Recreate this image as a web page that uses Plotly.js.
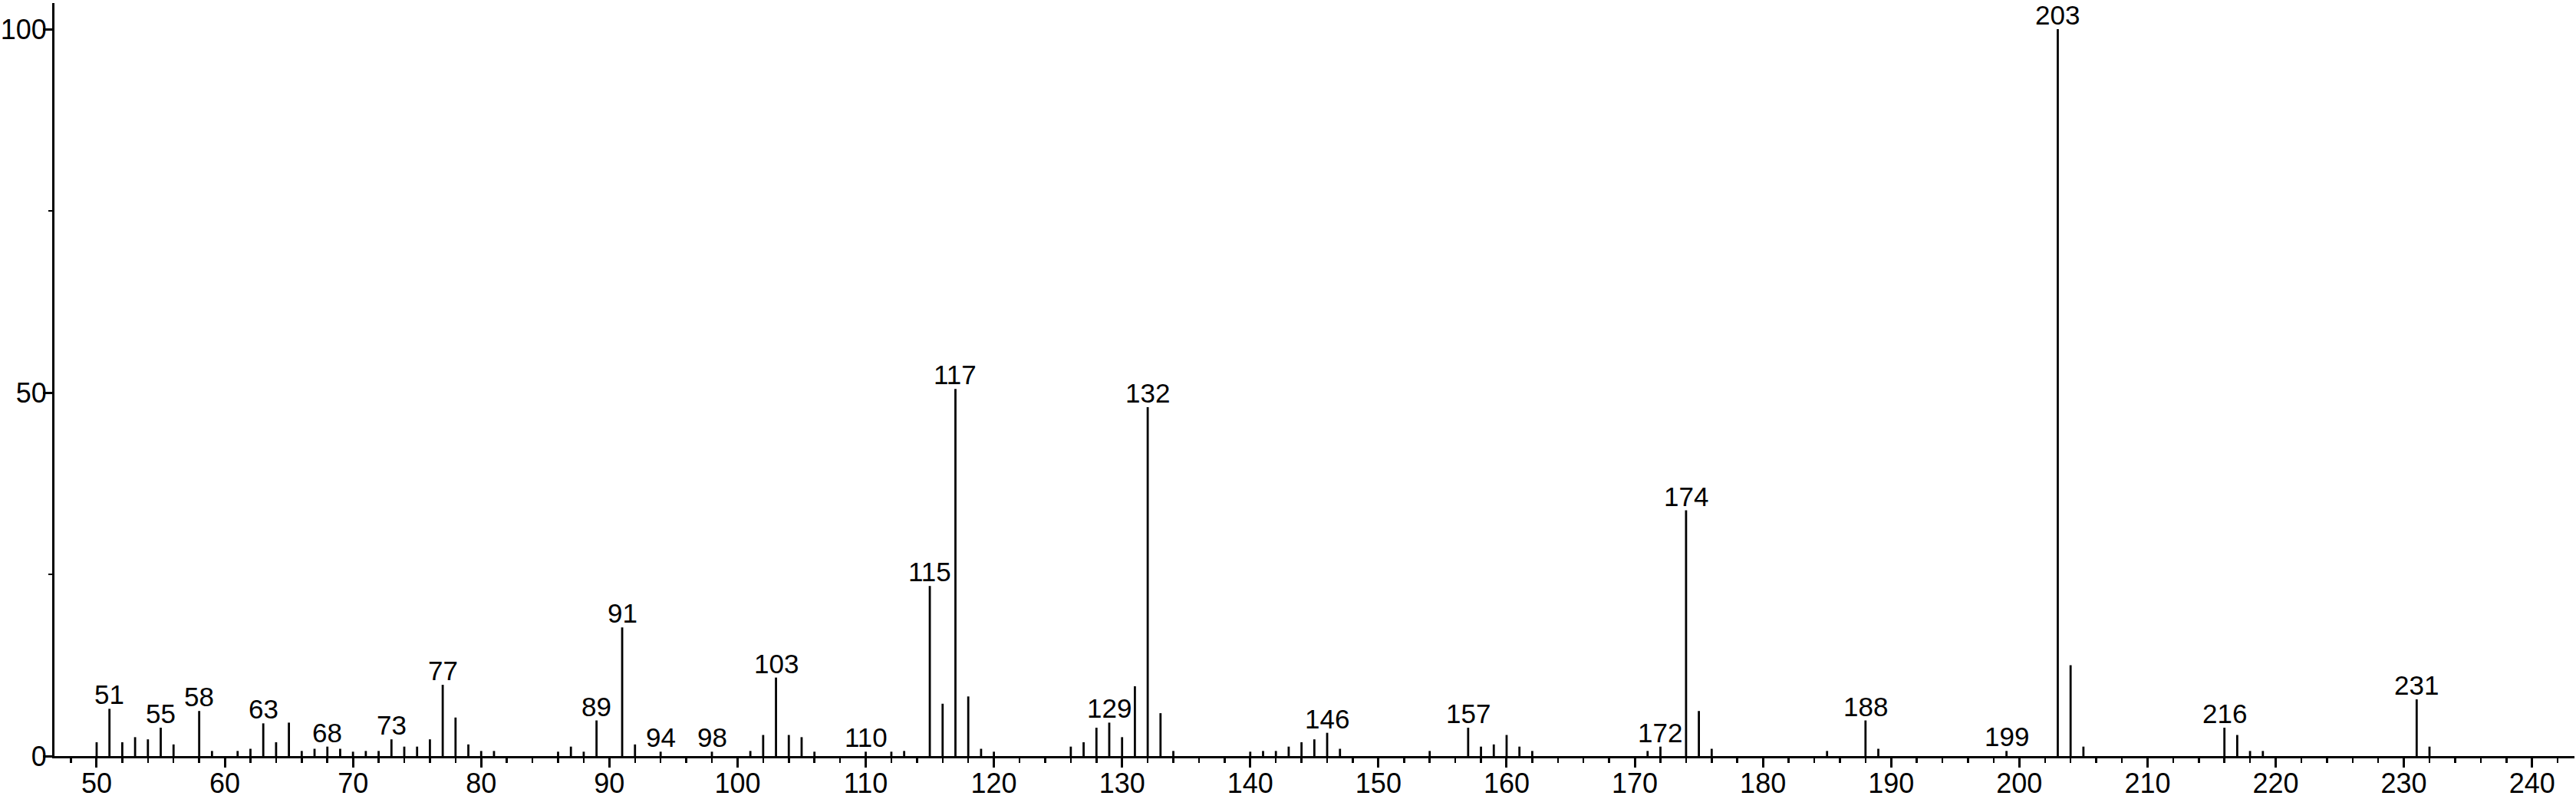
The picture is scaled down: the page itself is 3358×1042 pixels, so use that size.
<!DOCTYPE html>
<html>
<head>
<meta charset="utf-8">
<script src="https://cdn.plot.ly/plotly-3.0.1.min.js"></script>
<style>
  html, body { margin: 0; padding: 0; background: #ffffff; }
  #chart { width: 3358px; height: 1042px; }
</style>
</head>
<body>
<div id="chart"></div>
<script>
// m/z values of the peaks
const mz = [50, 51, 52, 53, 54, 55, 56, 58, 59, 61, 62, 63, 64, 65, 66, 67, 68, 69, 70, 71, 72, 73, 74, 75, 76, 77, 78, 79, 80, 81,
            86, 87, 88, 89, 91, 92, 94, 98, 101, 102, 103, 104, 105, 106, 110, 112, 113, 115, 116, 117, 118, 119, 120,
            126, 127, 128, 129, 130, 131, 132, 133, 134, 140, 141, 142, 143, 144, 145, 146, 147, 154, 157, 158, 159, 160, 161, 162,
            171, 172, 174, 175, 176, 185, 188, 189, 199, 203, 204, 205, 216, 217, 218, 219, 231, 232];
// relative intensities (%)
const intensity = [1.9, 6.5, 1.9, 2.6, 2.3, 3.9, 1.6, 6.2, 0.7, 0.7, 1.0, 4.5, 1.9, 4.6, 0.7, 1.0, 1.3, 1.0, 0.6, 0.7, 0.7, 2.3, 1.3, 1.3, 2.3, 9.8, 5.3, 1.6, 0.7, 0.7,
            0.6, 1.3, 0.6, 4.9, 17.7, 1.6, 0.6, 0.6, 0.7, 2.9, 10.8, 2.9, 2.6, 0.6, 0.6, 0.6, 0.7, 23.4, 7.2, 50.5, 8.2, 1.0, 0.6,
            1.3, 1.9, 3.9, 4.6, 2.6, 9.6, 48.0, 5.9, 0.7, 0.6, 0.7, 0.7, 1.3, 1.9, 2.3, 3.2, 1.0, 0.7, 3.9, 1.3, 1.6, 2.9, 1.3, 0.7,
            0.7, 1.3, 33.8, 6.2, 1.0, 0.7, 4.9, 1.0, 0.7, 100, 12.5, 1.3, 3.9, 2.9, 0.7, 0.7, 7.8, 1.3];
// peaks carrying a text label
const labeledMz = [51, 55, 58, 63, 68, 73, 77, 89, 91, 94, 98, 103, 110, 115, 117, 129, 132, 146, 157, 172, 174, 188, 199, 203, 216, 231];
// axis tick values
const yTickVals = [0, 50, 100];

const FONT = '"Liberation Sans", Arial, Helvetica, sans-serif';

// stick spectrum built from the arrays
const sx = [], sy = [];
mz.forEach((m, i) => { sx.push(m, m, null); sy.push(0, intensity[i], null); });

const sticks = {
  type: 'scatter', mode: 'lines', x: sx, y: sy,
  line: { color: '#000000', width: 2.8 },
  hoverinfo: 'skip', cliponaxis: false
};

const annotations = labeledMz.map(m => ({
  x: m, y: intensity[mz.indexOf(m)], xref: 'x', yref: 'y',
  text: String(m), showarrow: false, xanchor: 'center', yanchor: 'bottom',
  yshift: -3, font: { family: FONT, size: 35, color: '#000000' }
}));

const layout = {
  width: 3358, height: 1042,
  margin: { l: 71, r: 2, t: 4, b: 56 },
  paper_bgcolor: '#ffffff', plot_bgcolor: '#ffffff',
  showlegend: false,
  font: { family: FONT, color: '#000000' },
  xaxis: {
    range: [46.71, 243.31], tickmode: 'linear', tick0: 0, dtick: 10,
    ticks: 'outside', ticklen: 12, tickwidth: 3, tickcolor: '#000000',
    ticklabelstandoff: -10,
    showline: true, linewidth: 3, linecolor: '#000000',
    showgrid: false, zeroline: false,
    tickfont: { family: FONT, size: 36, color: '#000000' },
    minor: { tickmode: 'linear', tick0: 0, dtick: 2, ticks: 'outside', ticklen: 6, tickwidth: 2.5, tickcolor: '#000000', showgrid: false }
  },
  yaxis: {
    range: [0, 103.6], tickmode: 'array', tickvals: yTickVals, ticktext: yTickVals.map(String),
    ticks: 'outside', ticklen: 12, tickwidth: 3, tickcolor: '#000000',
    ticklabelstandoff: -12,
    showline: true, linewidth: 3, linecolor: '#000000',
    showgrid: false, zeroline: false,
    tickfont: { family: FONT, size: 36, color: '#000000' },
    minor: { tickmode: 'linear', tick0: 0, dtick: 25, ticks: 'outside', ticklen: 5, tickwidth: 2.5, tickcolor: '#000000', showgrid: false }
  },
  annotations: annotations
};

Plotly.newPlot('chart', [sticks], layout, { staticPlot: true, displayModeBar: false });
</script>
</body>
</html>
